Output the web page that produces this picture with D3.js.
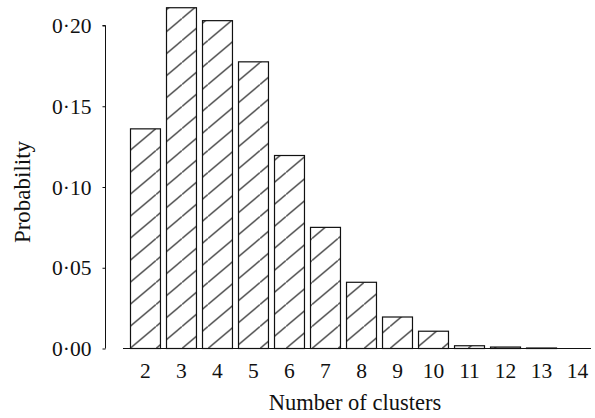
<!DOCTYPE html>
<html><head><meta charset="utf-8">
<script src="https://cdn.jsdelivr.net/npm/d3@7"></script>
<style>html,body{margin:0;padding:0;background:#fff;}svg{display:block;}</style>
</head><body>
<script>
const categories = [2,3,4,5,6,7,8,9,10,11,12,13,14];
const probability = [0.136,0.211,0.203,0.1775,0.1195,0.075,0.041,0.0195,0.0107,0.0017,0.0009,0.0003,0.0];
const yTicks = [0,0.05,0.10,0.15,0.20];
const yTickLabels = ["0·00","0·05","0·10","0·15","0·20"];
const xTitle = "Number of clusters";
const yTitle = "Probability";

const W=595,H=418;
const svg=d3.select("body").append("svg").attr("width",W).attr("height",H);
const font="'Liberation Serif','Times New Roman',serif";

const defs=svg.append("defs");
const pw=26, ph=22;
const pat=defs.append("pattern").attr("id","hatch").attr("patternUnits","userSpaceOnUse")
  .attr("width",pw).attr("height",ph).attr("y",348.5).attr("x",130);
pat.append("line").attr("x1",0).attr("y1",ph).attr("x2",pw).attr("y2",0)
  .attr("stroke","#111").attr("stroke-width",1.1);

const x=d3.scaleBand().domain(categories).range([112,611]).paddingInner(0.14).paddingOuter(0.5);
const y=d3.scaleLinear().domain([0,0.2]).range([348.5,25.5]);

// bars
svg.append("g").selectAll("rect").data(categories).join("rect")
  .attr("x",d=>x(d)+0.5).attr("width",x.bandwidth()-1)
  .attr("y",(d,i)=>y(probability[i])).attr("height",(d,i)=>y(0)-y(probability[i]))
  .attr("fill","url(#hatch)").attr("stroke","#111").attr("stroke-width",1.2);

// y axis
const ya=d3.axisLeft(y).tickValues(yTicks).tickSize(3).tickPadding(11)
  .tickFormat((d,i)=>yTickLabels[i]);
const gy=svg.append("g").attr("transform","translate(105.5,0)").call(ya);
gy.select(".domain").attr("d",`M-3,${y(0.2)}H0V${y(0)}`).attr("stroke","#111");
gy.selectAll(".tick line").attr("stroke","#111");
gy.selectAll("text").attr("font-family",font).attr("font-size",21.5).attr("fill","#111").attr("dy","0.33em");

// x axis
const xa=d3.axisBottom(x).tickSize(0).tickPadding(14);
const gx=svg.append("g").attr("transform",`translate(0,${y(0)})`).call(xa);
gx.select(".domain").attr("d","M123,0H591").attr("stroke","#111");
gx.selectAll("text").attr("font-family",font).attr("font-size",21.5).attr("fill","#111").attr("dy","0.71em");

svg.append("text").attr("x",355).attr("y",410).attr("text-anchor","middle")
  .attr("font-family",font).attr("font-size",22.5).attr("fill","#111").text(xTitle);
svg.append("text").attr("transform","translate(30,192) rotate(-90)").attr("text-anchor","middle")
  .attr("font-family",font).attr("font-size",23).attr("fill","#111").text(yTitle);
</script>
</body></html>
